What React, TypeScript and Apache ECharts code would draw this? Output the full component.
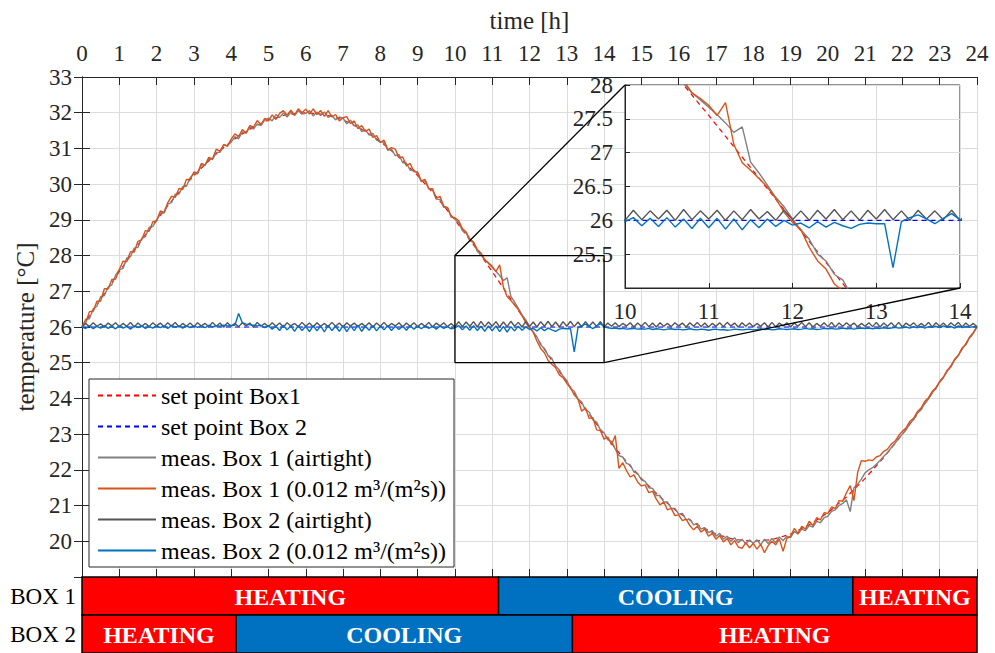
import React, { useEffect, useRef } from 'react';
import * as echarts from 'echarts';

const FONT = 'Liberation Serif';
const INK = '#262626';
const GRID_LINE = '#dcdcdc';

// ---- data -------------------------------------------------------------
const SAMPLE_STEP_H = 0.1; // measured series: one value every 0.1 h, 0 .. 24 h
const SETPOINT1_STEP_H = 0.5;

const SETPOINT1 = [
  26.0, 26.78, 27.55, 28.3, 29.0, 29.65, 30.24, 30.76, 31.2, 31.54, 31.8, 31.95, 32.0,
  31.95, 31.8, 31.54, 31.2, 30.76, 30.24, 29.65, 29.0, 28.3, 27.55, 26.78, 26.0,
  25.22, 24.45, 23.7, 23.0, 22.35, 21.76, 21.24, 20.8, 20.46, 20.2, 20.05, 20.0,
  20.05, 20.2, 20.46, 20.8, 21.24, 21.76, 22.35, 23.0, 23.7, 24.45, 25.22, 26.0,
];
const SETPOINT2_TIMES = [0, 24];
const SETPOINT2 = [26.0, 26.0];

const BOX1_AIRTIGHT = [
  26.00, 26.22, 26.23, 26.51, 26.58, 26.85, 26.88, 27.12, 27.18, 27.45,
  27.60, 27.64, 27.93, 27.97, 28.21, 28.23, 28.48, 28.53, 28.79, 28.82,
  28.98, 29.20, 29.19, 29.44, 29.48, 29.72, 29.72, 29.93, 29.94, 30.18,
  30.29, 30.29, 30.54, 30.53, 30.72, 30.69, 30.89, 30.89, 31.10, 31.08,
  31.18, 31.33, 31.27, 31.46, 31.43, 31.61, 31.54, 31.69, 31.64, 31.80,
  31.85, 31.77, 31.95, 31.87, 31.99, 31.88, 32.01, 31.93, 32.06, 31.96,
  31.98, 32.06, 31.91, 32.02, 31.92, 32.02, 31.87, 31.93, 31.80, 31.88,
  31.85, 31.69, 31.79, 31.63, 31.66, 31.47, 31.52, 31.37, 31.42, 31.23,
  31.18, 31.18, 30.95, 30.98, 30.80, 30.83, 30.60, 30.59, 30.39, 30.40,
  30.29, 30.07, 30.09, 29.87, 29.84, 29.58, 29.57, 29.35, 29.34, 29.10,
  29.02, 28.92, 28.70, 28.64, 28.42, 28.36, 28.12, 28.02, 27.89, 27.78,
  27.67, 27.56, 27.44, 27.30, 27.38, 26.86, 26.70, 26.52, 26.34, 26.20,
  26.02, 25.86, 25.72, 25.50, 25.40, 25.20, 25.12, 24.90, 24.80, 24.62,
  24.50, 24.28, 24.20, 23.98, 23.90, 23.68, 23.62, 23.40, 23.34, 23.12,
  23.04, 22.84, 22.80, 22.58, 22.40, 22.36, 22.18, 22.14, 21.94, 21.90,
  21.72, 21.68, 21.50, 21.48, 21.28, 21.28, 21.10, 21.10, 20.92, 20.92,
  20.76, 20.78, 20.60, 20.62, 20.46, 20.50, 20.34, 20.38, 20.24, 20.30,
  20.14, 20.22, 20.06, 20.14, 20.00, 20.10, 19.96, 20.06, 19.92, 20.04,
  19.94, 20.04, 19.90, 20.06, 19.94, 20.08, 19.96, 20.12, 20.02, 20.14,
  20.10, 20.28, 20.20, 20.34, 20.30, 20.44, 20.40, 20.56, 20.52, 20.66,
  20.70, 20.84, 20.88, 21.00, 21.06, 21.16, 20.83, 21.50, 21.60, 21.74,
  21.92, 22.00, 22.06, 22.16, 22.26, 22.38, 22.48, 22.62, 22.74, 22.88,
  23.00, 23.12, 23.30, 23.40, 23.58, 23.68, 23.86, 23.98, 24.16, 24.28,
  24.46, 24.58, 24.77, 24.88, 25.08, 25.20, 25.39, 25.50, 25.70, 25.82,
  26.00,
];

const BOX1_LEAKY = [
  26.02, 26.12, 26.43, 26.44, 26.72, 26.73, 27.07, 27.07, 27.33, 27.34,
  27.61, 27.84, 27.83, 28.11, 28.10, 28.40, 28.44, 28.70, 28.68, 28.95,
  28.97, 29.25, 29.21, 29.48, 29.66, 29.63, 29.88, 29.85, 30.13, 30.13,
  30.34, 30.31, 30.58, 30.53, 30.75, 30.71, 30.98, 30.92, 31.11, 31.06,
  31.26, 31.41, 31.33, 31.53, 31.43, 31.64, 31.60, 31.78, 31.67, 31.84,
  31.77, 31.94, 31.81, 31.98, 32.06, 31.93, 32.07, 31.93, 32.11, 32.00,
  32.10, 31.96, 32.11, 31.95, 32.06, 31.90, 32.06, 31.88, 31.95, 31.77,
  31.86, 31.89, 31.69, 31.77, 31.55, 31.64, 31.48, 31.54, 31.31, 31.36,
  31.17, 31.23, 30.97, 31.02, 30.98, 30.74, 30.76, 30.51, 30.58, 30.35,
  30.34, 30.09, 30.13, 29.87, 29.87, 29.60, 29.66, 29.38, 29.35, 29.08,
  29.06, 28.98, 28.76, 28.66, 28.46, 28.38, 28.17, 28.07, 27.88, 27.80,
  27.70, 27.55, 27.74, 27.12, 26.85, 26.74, 26.62, 26.49, 26.32, 26.12,
  25.97, 25.86, 25.60, 25.40, 25.28, 25.06, 24.96, 24.86, 24.66, 24.58,
  24.42, 24.30, 24.10, 23.98, 23.64, 23.74, 23.44, 23.46, 23.12, 23.10,
  22.86, 22.92, 22.70, 22.96, 22.04, 22.20, 21.98, 21.80, 21.86, 21.66,
  21.55, 21.58, 21.36, 21.40, 21.18, 21.02, 21.10, 20.88, 20.92, 20.72,
  20.74, 20.58, 20.62, 20.44, 20.32, 20.42, 20.26, 20.34, 20.14, 20.22,
  20.06, 20.16, 19.98, 20.08, 19.90, 20.02, 19.84, 19.80, 19.96, 19.82,
  19.94, 19.78, 19.92, 19.68, 19.88, 20.00, 19.90, 20.06, 19.72, 20.08,
  20.14, 20.36, 20.22, 20.42, 20.34, 20.56, 20.44, 20.66, 20.60, 20.80,
  20.78, 20.96, 20.92, 21.14, 21.12, 21.36, 21.56, 21.14, 21.93, 22.26,
  22.24, 22.28, 22.26, 22.36, 22.40, 22.52, 22.58, 22.72, 22.80, 22.96,
  23.08, 23.18, 23.36, 23.44, 23.63, 23.73, 23.92, 24.02, 24.20, 24.30,
  24.48, 24.60, 24.79, 24.90, 25.10, 25.21, 25.41, 25.52, 25.72, 25.84,
  26.02,
];

const BOX2_AIRTIGHT = [
  26.00, 26.10, 26.01, 26.12, 26.02, 26.09, 26.00, 26.11, 26.03, 26.12,
  26.01, 26.10, 26.02, 26.13, 26.00, 26.11, 26.02, 26.10, 26.01, 26.12,
  26.03, 26.11, 26.01, 26.12, 26.02, 26.13, 26.00, 26.10, 26.02, 26.11,
  26.01, 26.12, 26.03, 26.10, 26.01, 26.13, 26.02, 26.11, 26.00, 26.12,
  26.02, 26.10, 26.01, 26.12, 26.03, 26.11, 26.00, 26.13, 26.02, 26.10,
  26.01, 26.12, 26.02, 26.11, 26.00, 26.12, 26.03, 26.10, 26.01, 26.13,
  26.02, 26.11, 26.00, 26.12, 26.02, 26.10, 26.01, 26.13, 26.02, 26.11,
  26.00, 26.12, 26.03, 26.11, 26.01, 26.10, 26.02, 26.12, 26.00, 26.11,
  26.02, 26.13, 26.01, 26.10, 26.03, 26.12, 26.00, 26.11, 26.02, 26.12,
  26.01, 26.10, 26.02, 26.13, 26.00, 26.11, 26.03, 26.12, 26.01, 26.10,
  26.00, 26.15, 26.01, 26.14, 26.02, 26.15, 26.00, 26.16, 26.01, 26.14,
  26.02, 26.15, 26.00, 26.14, 26.01, 26.16, 26.02, 26.13, 26.00, 26.15,
  26.01, 26.14, 26.00, 26.15, 26.02, 26.16, 26.01, 26.14, 26.00, 26.15,
  26.02, 26.16, 26.01, 26.14, 26.00, 26.15, 26.02, 26.14, 26.01, 26.15,
  26.00, 26.11, 26.02, 26.12, 26.01, 26.10, 26.03, 26.12, 26.00, 26.11,
  26.02, 26.13, 26.01, 26.11, 26.00, 26.12, 26.02, 26.10, 26.01, 26.12,
  26.03, 26.11, 26.00, 26.12, 26.02, 26.13, 26.01, 26.11, 26.00, 26.10,
  26.02, 26.12, 26.01, 26.13, 26.03, 26.11, 26.00, 26.12, 26.02, 26.11,
  26.01, 26.10, 26.02, 26.12, 26.00, 26.13, 26.01, 26.11, 26.03, 26.12,
  26.00, 26.11, 26.02, 26.13, 26.01, 26.12, 26.00, 26.10, 26.02, 26.12,
  26.01, 26.13, 26.00, 26.11, 26.02, 26.12, 26.03, 26.11, 26.01, 26.10,
  26.02, 26.12, 26.01, 26.13, 26.00, 26.11, 26.02, 26.12, 26.01, 26.13,
  26.00, 26.11, 26.03, 26.12, 26.01, 26.10, 26.02, 26.13, 26.00, 26.12,
  26.02, 26.11, 26.01, 26.12, 26.03, 26.13, 26.00, 26.11, 26.02, 26.10,
  26.01,
];

const BOX2_LEAKY = [
  25.99, 25.96, 26.03, 25.95, 26.02, 25.97, 26.04, 25.96, 26.01, 25.95,
  26.03, 25.97, 26.02, 25.94, 26.03, 25.98, 26.04, 25.96, 26.02, 25.97,
  26.04, 25.98, 26.03, 25.96, 26.05, 25.99, 26.03, 25.97, 26.04, 25.98,
  26.03, 25.99, 26.04, 25.98, 26.05, 26.00, 26.04, 26.02, 26.05, 26.03,
  26.04, 26.05, 26.38, 26.12, 26.08, 26.06, 26.05, 26.03, 26.05, 25.98,
  26.04, 25.94, 26.02, 25.90, 26.05, 25.92, 26.03, 25.88, 26.04, 25.90,
  26.02, 25.87, 26.04, 25.89, 26.03, 25.86, 26.05, 25.90, 26.02, 25.88,
  26.04, 25.87, 26.03, 25.90, 26.05, 25.88, 26.02, 25.91, 26.04, 25.89,
  26.03, 25.92, 26.04, 25.90, 26.02, 25.93, 26.03, 25.91, 26.04, 25.94,
  26.02, 25.95, 26.03, 25.96, 26.02, 25.94, 26.03, 25.96, 26.01, 25.95,
  25.98, 26.04, 25.92, 26.03, 25.91, 26.04, 25.90, 26.02, 25.88, 26.03,
  25.89, 26.03, 25.87, 26.02, 25.86, 26.01, 25.89, 26.02, 25.91, 26.00,
  25.93, 25.96, 25.89, 25.98, 25.90, 25.97, 25.92, 25.88, 25.94, 25.96,
  25.95, 25.95, 25.30, 25.98, 26.04, 26.08, 26.02, 25.95, 26.03, 26.10,
  26.01, 25.98, 25.96, 25.97, 25.95, 25.96, 25.94, 25.95, 25.96, 25.94,
  25.95, 25.94, 25.96, 25.93, 25.95, 25.94, 25.92, 25.94, 25.95, 25.93,
  25.94, 25.92, 25.93, 25.95, 25.93, 25.92, 25.94, 25.93, 25.91, 25.93,
  25.94, 25.92, 25.93, 25.91, 25.92, 25.94, 25.93, 25.92, 25.93, 25.94,
  25.92, 25.93, 25.95, 25.93, 25.94, 25.92, 25.93, 25.95, 25.94, 25.93,
  25.94, 25.95, 25.93, 25.94, 25.96, 25.94, 25.95, 25.93, 25.94, 25.96,
  25.95, 25.96, 25.94, 25.95, 25.97, 25.95, 25.96, 25.94, 25.96, 25.97,
  25.96, 25.97, 25.95, 25.97, 25.96, 25.98, 25.96, 25.97, 25.99, 25.97,
  25.98, 26.00, 25.97, 26.01, 25.98, 26.02, 25.97, 26.01, 25.99, 26.02,
  25.98, 26.03, 25.99, 26.02, 25.97, 26.03, 25.98, 26.02, 25.99, 26.01,
  26.00,
];

const SERIES_NAMES = [
  'set point Box1',
  'set point Box 2',
  'meas. Box 1 (airtight)',
  'meas. Box 1 (0.012 m³/(m²s))',
  'meas. Box 2 (airtight)',
  'meas. Box 2 (0.012 m³/(m²s))',
];
const SERIES_COLORS = ['#FF0000', '#0000FF', '#808080', '#D95319', '#555555', '#0072BD'];

// zoomed window shown in the inset
const INSET_X = [10, 14];
const INSET_Y = [25, 28];

// HVAC operating phases (hours)
const ROWS = ['BOX 1', 'BOX 2'];
const BOX1_EDGES = [0, 11.17, 20.67, 24];
const BOX1_MODES = ['HEATING', 'COOLING', 'HEATING'];
const BOX2_EDGES = [0, 4.13, 13.15, 24];
const BOX2_MODES = ['HEATING', 'COOLING', 'HEATING'];

// ---- helpers ----------------------------------------------------------
const pairs = (vals: number[], step: number) =>
  vals.map((v, i) => [Math.round(i * step * 100) / 100, v]);

const SERIES_DATA = [
  pairs(SETPOINT1, SETPOINT1_STEP_H),
  SETPOINT2_TIMES.map((t, i) => [t, SETPOINT2[i]]),
  pairs(BOX1_AIRTIGHT, SAMPLE_STEP_H),
  pairs(BOX1_LEAKY, SAMPLE_STEP_H),
  pairs(BOX2_AIRTIGHT, SAMPLE_STEP_H),
  pairs(BOX2_LEAKY, SAMPLE_STEP_H),
];

const PHASES: { start: number; end: number; row: number; mode: string }[] = [];
[[BOX1_EDGES, BOX1_MODES], [BOX2_EDGES, BOX2_MODES]].forEach(([edges, modes], row) => {
  (modes as string[]).forEach((m, i) => {
    PHASES.push({ start: (edges as number[])[i], end: (edges as number[])[i + 1], row, mode: m });
  });
});

const lineSeries = (idx: number, xAxisIndex: number, yAxisIndex: number, z: number, name: string) => ({
  type: 'line',
  name,
  xAxisIndex,
  yAxisIndex,
  data: SERIES_DATA[idx],
  symbol: 'none',
  showSymbol: false,
  clip: true,
  silent: true,
  z,
  lineStyle: {
    color: SERIES_COLORS[idx],
    width: idx < 2 ? 1.2 : 1.4,
    type: idx < 2 ? [5, 4] : 'solid',
  },
  itemStyle: { color: SERIES_COLORS[idx] },
});

const labelStyle = { fontFamily: FONT, fontSize: 23, color: INK };

export default function App() {
  const ref = useRef<HTMLDivElement>(null);

  useEffect(() => {
    if (!ref.current) return;
    const chart = echarts.init(ref.current, null, { renderer: 'svg' });

    const mainSeries = SERIES_NAMES.map((n, i) => lineSeries(i, 0, 0, 3 + (i >= 2 ? 1 : 0), n));
    const rectSeries = {
      type: 'line',
      name: 'zoom window',
      xAxisIndex: 0,
      yAxisIndex: 0,
      data: [
        [INSET_X[0], INSET_Y[0]],
        [INSET_X[1], INSET_Y[0]],
        [INSET_X[1], INSET_Y[1]],
        [INSET_X[0], INSET_Y[1]],
        [INSET_X[0], INSET_Y[0]],
      ],
      symbol: 'none',
      silent: true,
      z: 6,
      lineStyle: { color: '#000', width: 1.3 },
    };
    const insetSeries = SERIES_NAMES.map((n, i) => lineSeries(i, 2, 2, 8, 'inset ' + i));
    const barSeries = {
      type: 'custom',
      name: 'phases',
      xAxisIndex: 3,
      yAxisIndex: 3,
      silent: true,
      data: PHASES.map((p) => [p.start, p.end, p.row]),
      encode: { x: [0, 1], y: 2 },
      renderItem: (params: any, api: any) => {
        const row = api.value(2);
        const s = api.coord([api.value(0), row]);
        const e = api.coord([api.value(1), row]);
        const h = api.size([0, 1])[1];
        const mode = PHASES[params.dataIndex].mode;
        return {
          type: 'group',
          children: [
            {
              type: 'rect',
              shape: { x: s[0], y: s[1] - h / 2, width: e[0] - s[0], height: h },
              style: { fill: mode === 'HEATING' ? '#FF0000' : '#0070C0', stroke: '#000', lineWidth: 1.5 },
            },
            {
              type: 'text',
              style: {
                text: mode,
                x: (s[0] + e[0]) / 2,
                y: s[1] + 1,
                align: 'center',
                verticalAlign: 'middle',
                fill: '#fff',
                fontFamily: FONT,
                fontSize: 24,
                fontWeight: 'bold',
              },
            },
          ],
        };
      },
    };

    const RECT_IDX = mainSeries.length;
    const INSET_IDX = RECT_IDX + 1;

    chart.setOption({
      animation: false,
      backgroundColor: '#fff',
      textStyle: { fontFamily: FONT },
      grid: [
        { left: 82, top: 77, width: 895, height: 500, show: false },
        {
          left: 625, top: 85, width: 335, height: 203, show: true,
          backgroundColor: '#fff', borderColor: INK, borderWidth: 1, z: 5,
        },
        { left: 82, top: 577, width: 895, height: 76, show: false },
      ],
      legend: {
        data: SERIES_NAMES,
        orient: 'vertical',
        left: 89,
        top: 379,
        itemWidth: 58,
        itemHeight: 14,
        itemGap: 6,
        padding: [4, 8, 4, 8],
        backgroundColor: '#fff',
        borderColor: INK,
        borderWidth: 1,
        borderRadius: 0,
        selectedMode: false,
        z: 9,
        itemStyle: { opacity: 0, borderWidth: 0 },
        textStyle: { fontFamily: FONT, fontSize: 24, color: '#000', lineHeight: 25 },
      },
      xAxis: [
        {
          gridIndex: 0, type: 'value', position: 'top', min: 0, max: 24, interval: 1,
          name: 'time [h]', nameLocation: 'middle', nameGap: 44,
          nameTextStyle: { fontFamily: FONT, fontSize: 25, color: INK },
          axisLine: { show: true, lineStyle: { color: INK, width: 1 } },
          axisTick: { show: true, inside: true, length: 8, lineStyle: { color: INK } },
          axisLabel: { ...labelStyle, margin: 12, showMinLabel: true, showMaxLabel: true },
          splitLine: { show: true, lineStyle: { color: GRID_LINE, width: 1 } },
        },
        {
          gridIndex: 0, type: 'value', position: 'bottom', min: 0, max: 24, interval: 1,
          axisLine: { show: true, lineStyle: { color: INK, width: 1 } },
          axisTick: { show: true, inside: true, length: 8, lineStyle: { color: INK } },
          axisLabel: { show: false },
          splitLine: { show: false },
        },
        {
          gridIndex: 1, type: 'value', position: 'bottom', min: INSET_X[0], max: INSET_X[1], interval: 1,
          z: 6,
          axisLine: { show: true, lineStyle: { color: INK, width: 1 } },
          axisTick: { show: true, inside: true, length: 5, lineStyle: { color: INK } },
          axisLabel: { ...labelStyle, margin: 12, showMinLabel: true, showMaxLabel: true },
          splitLine: { show: true, lineStyle: { color: GRID_LINE, width: 1 } },
        },
        { gridIndex: 2, type: 'value', min: 0, max: 24, show: false },
      ],
      yAxis: [
        {
          gridIndex: 0, type: 'value', position: 'left', min: 19, max: 33, interval: 1,
          name: 'temperature [°C]', nameLocation: 'middle', nameGap: 44, nameRotate: 90,
          nameTextStyle: { fontFamily: FONT, fontSize: 25, color: INK },
          axisLine: { show: true, lineStyle: { color: INK, width: 1 } },
          axisTick: { show: true, inside: true, length: 8, lineStyle: { color: INK } },
          axisLabel: {
            ...labelStyle, margin: 10, showMinLabel: true, showMaxLabel: true,
            formatter: (v: number) => (v === 19 ? '' : String(v)),
          },
          splitLine: { show: true, lineStyle: { color: GRID_LINE, width: 1 } },
        },
        {
          gridIndex: 0, type: 'value', position: 'right', min: 19, max: 33, interval: 1,
          axisLine: { show: true, lineStyle: { color: INK, width: 1 } },
          axisTick: { show: true, inside: true, length: 8, lineStyle: { color: INK } },
          axisLabel: { show: false },
          splitLine: { show: false },
        },
        {
          gridIndex: 1, type: 'value', position: 'left', min: INSET_Y[0], max: INSET_Y[1], interval: 0.5,
          z: 6,
          axisLine: { show: true, lineStyle: { color: INK, width: 1 } },
          axisTick: { show: true, inside: true, length: 5, lineStyle: { color: INK } },
          axisLabel: {
            ...labelStyle, margin: 12, showMinLabel: true, showMaxLabel: true,
            formatter: (v: number) => (v === INSET_Y[0] ? '' : String(v)),
          },
          splitLine: { show: true, lineStyle: { color: GRID_LINE, width: 1 } },
        },
        {
          gridIndex: 2, type: 'category', data: ROWS, inverse: true,
          axisLine: { show: false },
          axisTick: { show: false },
          axisLabel: { fontFamily: FONT, fontSize: 23, color: '#000', margin: 6 },
          splitLine: { show: false },
        },
      ],
      series: [...mainSeries, rectSeries, ...insetSeries, barSeries],
    });

    const a1 = chart.convertToPixel({ seriesIndex: RECT_IDX }, [INSET_X[0], INSET_Y[1]]) as number[];
    const b1 = chart.convertToPixel({ seriesIndex: INSET_IDX }, [INSET_X[0], INSET_Y[1]]) as number[];
    const a2 = chart.convertToPixel({ seriesIndex: RECT_IDX }, [INSET_X[1], INSET_Y[0]]) as number[];
    const b2 = chart.convertToPixel({ seriesIndex: INSET_IDX }, [INSET_X[1], INSET_Y[0]]) as number[];
    chart.setOption({
      graphic: [
        {
          type: 'line', z: 20, silent: true,
          shape: { x1: a1[0], y1: a1[1], x2: b1[0], y2: b1[1] },
          style: { stroke: '#000', lineWidth: 1.3 },
        },
        {
          type: 'line', z: 20, silent: true,
          shape: { x1: a2[0], y1: a2[1], x2: b2[0], y2: b2[1] },
          style: { stroke: '#000', lineWidth: 1.3 },
        },
      ],
    });

    return () => chart.dispose();
  }, []);

  return (
    <div
      ref={ref}
      style={{ position: 'fixed', left: 0, top: 0, width: 995, height: 653, background: '#fff' }}
    />
  );
}
